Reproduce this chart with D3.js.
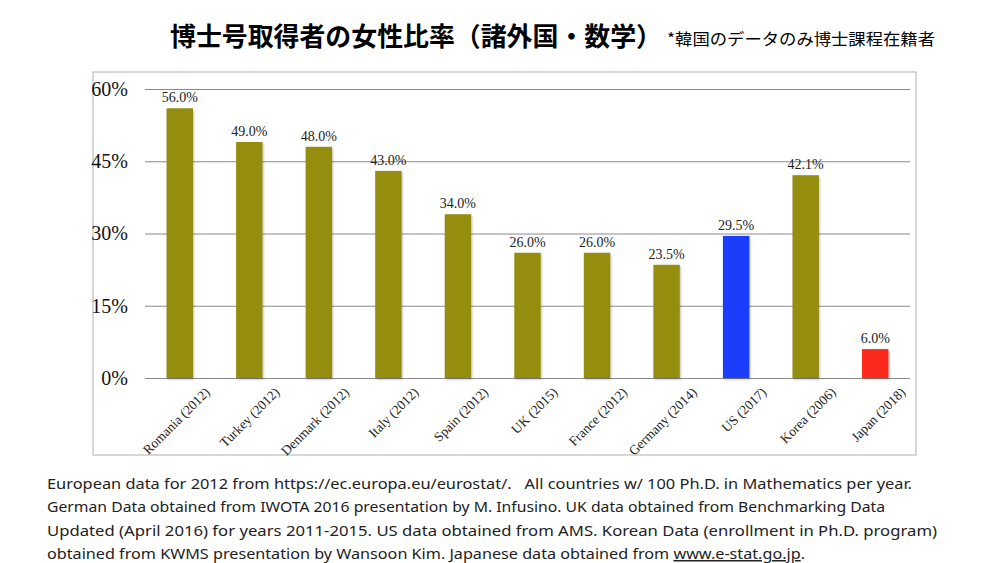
<!DOCTYPE html>
<html><head><meta charset="utf-8">
<script src="https://cdn.jsdelivr.net/npm/d3@7"></script>
<style>body{margin:0;background:#fff}svg{display:block}</style>
</head><body>
<svg id="c" width="1000" height="563"></svg>
<script>
const categories = ["Romania (2012)","Turkey (2012)","Denmark (2012)","Italy (2012)","Spain (2012)","UK (2015)","France (2012)","Germany (2014)","US (2017)","Korea (2006)","Japan (2018)"];
const values = [56.0,49.0,48.0,43.0,34.0,26.0,26.0,23.5,29.5,42.1,6.0];
const labels = ["56.0%","49.0%","48.0%","43.0%","34.0%","26.0%","26.0%","23.5%","29.5%","42.1%","6.0%"];
const barColors = ["#948d10","#948d10","#948d10","#948d10","#948d10","#948d10","#948d10","#948d10","#1f3dfb","#948d10","#fb2a1a"];
const yTicks = [0,15,30,45,60];
const yTickLabels = ["0%","15%","30%","45%","60%"];
const title = "博士号取得者の女性比率（諸外国・数学）";
const subtitle = "*韓国のデータのみ博士課程在籍者";
const notes = [
 "European data for 2012 from https://ec.europa.eu/eurostat/.   All countries w/ 100 Ph.D. in Mathematics per year.",
 "German Data obtained from IWOTA 2016 presentation by M. Infusino. UK data obtained from Benchmarking Data",
 "Updated (April 2016) for years 2011-2015. US data obtained from AMS. Korean Data (enrollment in Ph.D. program)",
 "obtained from KWMS presentation by Wansoon Kim. Japanese data obtained from "
];
const noteLink = "www.e-stat.go.jp";
const noteEnd = ".";

const svg = d3.select("#c");
const serif = "'Liberation Serif','DejaVu Serif',serif";
const sans = "'Noto Sans CJK JP','Noto Sans',sans-serif";

svg.append("rect").attr("x",93).attr("y",72).attr("width",823).attr("height",383)
  .attr("fill","#fff").attr("stroke","#bdbdbd").attr("stroke-width",1.2);

const x = d3.scaleBand().domain(categories).range([145,910]).paddingInner(0.62).paddingOuter(0.31);
const y = d3.scaleLinear().domain([0,60]).range([378,89]);

const defs = svg.append("defs");
const f = defs.append("filter").attr("id","sh").attr("x","-20%").attr("y","-5%").attr("width","140%").attr("height","115%");
f.append("feDropShadow").attr("dx",1).attr("dy",1.5).attr("stdDeviation",1.2).attr("flood-color","#000").attr("flood-opacity",0.25);

const yAxis = d3.axisLeft(y).tickValues(yTicks).tickSize(-(910-145)).tickFormat((d,i)=>yTickLabels[i]);
const ga = svg.append("g").attr("transform","translate(145,0)").call(yAxis);
ga.select(".domain").remove();
ga.selectAll(".tick line").attr("stroke","#8a8a8a").attr("stroke-width",1);
ga.selectAll(".tick text").attr("x",-17).attr("font-family",serif).attr("font-size",20).attr("fill","#111");

svg.append("g").selectAll("rect").data(values).join("rect")
  .attr("x",(d,i)=>x(categories[i]))
  .attr("y",d=>y(d))
  .attr("width",x.bandwidth())
  .attr("height",d=>y(0)-y(d))
  .attr("fill",(d,i)=>barColors[i])
  .attr("filter","url(#sh)");

svg.append("g").selectAll("text").data(values).join("text")
  .attr("x",(d,i)=>x(categories[i])+x.bandwidth()/2)
  .attr("y",d=>y(d)-6)
  .attr("text-anchor","middle")
  .attr("font-family",serif).attr("font-size",14).attr("fill","#222")
  .text((d,i)=>labels[i]);

svg.append("g").selectAll("text").data(categories).join("text")
  .attr("transform",d=>`translate(${x(d)+x.bandwidth()/2+31},${393}) rotate(-45)`)
  .attr("text-anchor","end")
  .attr("font-family",serif).attr("font-size",13.5).attr("fill","#222")
  .text(d=>d);

svg.append("text").attr("x",170).attr("y",46).attr("font-family",sans).attr("font-weight",700)
  .attr("font-size",26).attr("fill","#000").text(title)
  .attr("textLength",492).attr("lengthAdjust","spacingAndGlyphs");
svg.append("text").attr("x",667).attr("y",45).attr("font-family",sans)
  .attr("font-size",16).attr("fill","#000").text(subtitle)
  .attr("textLength",268).attr("lengthAdjust","spacingAndGlyphs");

const noteY = [489,512,536,559];
const noteLen = [865,838,890,null];
notes.forEach((t,i)=>{
  const tx = svg.append("text").attr("x",47).attr("y",noteY[i]).attr("font-family","'Noto Sans',sans-serif")
    .attr("font-size",15).attr("fill","#222").style("white-space","pre");
  if(i<3){
    tx.text(t).attr("textLength",noteLen[i]).attr("lengthAdjust","spacingAndGlyphs");
  } else {
    tx.append("tspan").text(t);
    tx.append("tspan").text(noteLink).attr("text-decoration","underline");
    tx.append("tspan").text(noteEnd);
    tx.attr("textLength",758).attr("lengthAdjust","spacingAndGlyphs");
  }
});
</script>
</body></html>
